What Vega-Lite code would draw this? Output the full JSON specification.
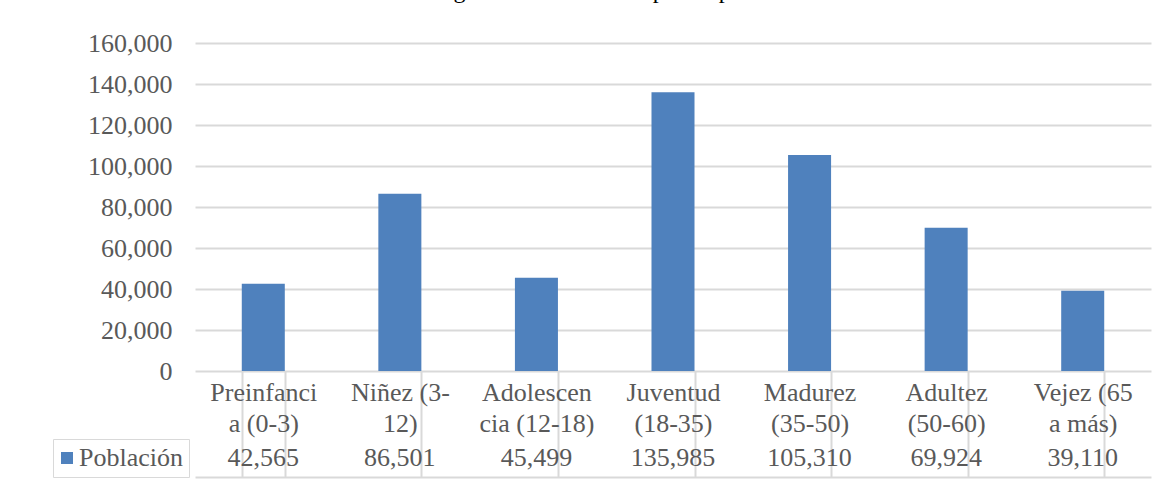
{
  "$schema": "https://vega.github.io/schema/vega-lite/v6.json",
  "width": 956,
  "height": 328,
  "autosize": {"type": "none"},
  "padding": {"left": 195, "top": 43, "right": 16, "bottom": 113},
  "background": "white",
  "title": {
    "text": "Figura 109: Población por etapas",
    "anchor": "middle",
    "frame": "group",
    "dx": -81,
    "dy": 47,
    "offset": 0,
    "baseline": "alphabetic",
    "font": "Liberation Serif, Times New Roman, serif",
    "fontSize": 24,
    "fontWeight": "normal",
    "color": "#000000"
  },
  "data": {
    "values": [
      {"etapa": "Preinfanci\na (0-3)", "serie": "Población", "poblacion": 42565},
      {"etapa": "Niñez (3-\n12)", "serie": "Población", "poblacion": 86501},
      {"etapa": "Adolescen\ncia (12-18)", "serie": "Población", "poblacion": 45499},
      {"etapa": "Juventud\n(18-35)", "serie": "Población", "poblacion": 135985},
      {"etapa": "Madurez\n(35-50)", "serie": "Población", "poblacion": 105310},
      {"etapa": "Adultez\n(50-60)", "serie": "Población", "poblacion": 69924},
      {"etapa": "Vejez (65\na más)", "serie": "Población", "poblacion": 39110}
    ]
  },
  "layer": [
    {
      "mark": {"type": "bar"},
      "encoding": {
        "x": {
          "field": "etapa",
          "type": "nominal",
          "sort": null,
          "scale": {"paddingInner": 0.685, "paddingOuter": 0.3425},
          "axis": {
            "title": null,
            "offset": 106,
            "domain": true,
            "domainColor": "#D9D9D9",
            "domainWidth": 2,
            "ticks": true,
            "tickBand": "extent",
            "tickSize": -106,
            "tickColor": "#D9D9D9",
            "tickWidth": 2,
            "labelExpr": "split(datum.label, '\\n')",
            "labelFont": "Liberation Serif, Times New Roman, serif",
            "labelFontSize": 26,
            "labelColor": "#595959",
            "labelAngle": 0,
            "labelAlign": "center",
            "labelBaseline": "top",
            "labelLineHeight": 31,
            "labelPadding": 8,
            "labelLimit": 300
          }
        },
        "y": {
          "field": "poblacion",
          "type": "quantitative",
          "scale": {"domain": [0, 160000], "nice": false},
          "axis": {
            "title": null,
            "values": [0, 20000, 40000, 60000, 80000, 100000, 120000, 140000, 160000],
            "labelExpr": "format(datum.value, ',')",
            "grid": true,
            "gridColor": "#D9D9D9",
            "gridWidth": 2,
            "domain": false,
            "ticks": false,
            "labelFont": "Liberation Serif, Times New Roman, serif",
            "labelFontSize": 26,
            "labelColor": "#595959",
            "labelPadding": 23
          }
        },
        "color": {
          "field": "serie",
          "type": "nominal",
          "scale": {"range": ["#4F81BD"]},
          "legend": {
            "orient": "none",
            "legendX": -142,
            "legendY": 396,
            "title": null,
            "symbolType": "square",
            "symbolSize": 144,
            "symbolStrokeWidth": 0,
            "symbolOffset": -5,
            "labelOffset": -1,
            "labelFont": "Liberation Serif, Times New Roman, serif",
            "labelFontSize": 26,
            "labelColor": "#595959",
            "padding": 6,
            "strokeColor": "#D9D9D9"
          }
        }
      }
    },
    {
      "mark": {
        "type": "text",
        "dy": 87,
        "align": "center",
        "baseline": "middle",
        "font": "Liberation Serif, Times New Roman, serif",
        "fontSize": 26,
        "color": "#595959"
      },
      "encoding": {
        "x": {
          "field": "etapa",
          "type": "nominal",
          "sort": null,
          "axis": {
            "title": null,
            "offset": 68,
            "domain": true,
            "domainColor": "#D9D9D9",
            "domainWidth": 2,
            "ticks": false,
            "labels": false
          }
        },
        "y": {"datum": 0},
        "text": {"field": "poblacion", "type": "quantitative", "format": ","}
      }
    }
  ],
  "resolve": {"axis": {"x": "independent"}},
  "config": {"view": {"stroke": null}}
}
